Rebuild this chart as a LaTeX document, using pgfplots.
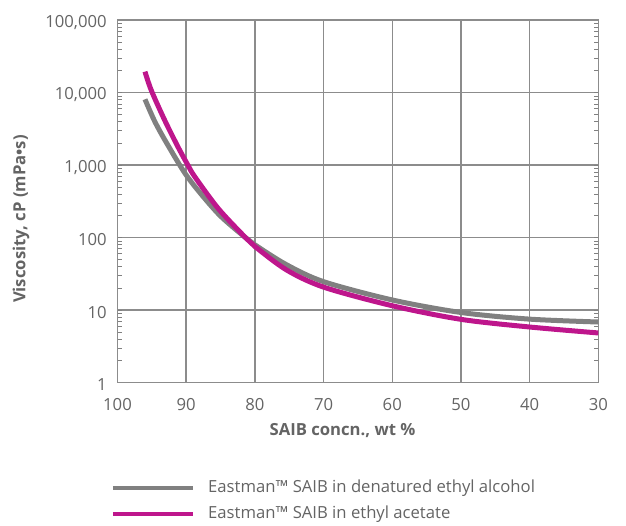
\documentclass[border=0pt]{standalone}
\usepackage{pgfplots}
\pgfplotsset{compat=1.18}
\usepackage{fontspec}
\setmainfont{Open Sans}

\definecolor{curvegray}{RGB}{128,128,128}
\definecolor{gridgray}{RGB}{140,140,140}
\definecolor{labelgray}{RGB}{100,100,100}
\definecolor{saibmagenta}{RGB}{190,22,140}

\begin{document}
\fontsize{10}{12}\selectfont
\begin{tikzpicture}
  \begin{axis}[
    name=ax,
    scale only axis,
    width=288.5pt, height=217.4pt,
    ymode=log,
    ymin=1, ymax=100000,
    xmin=30, xmax=100,
    x dir=reverse,
    xtick={30,40,50,60,70,80,90,100},
    ytick={1,10,100,1000,10000,100000},
    yticklabels={1,10,100,{1,000},{10,000},{100,000}},
    minor ytick={},
    grid=major,
    major grid style={gridgray, line width=0.9pt},
    axis line style={gridgray, line width=0.9pt},
    major tick length=0pt,
    tick label style={labelgray, font=\fontsize{10}{12}\selectfont},
    /pgf/number format/assume math mode=true,
    xticklabel style={yshift=-6pt},
    yticklabel style={xshift=-3pt, yshift=-1.5pt},
    xlabel={\textbf{SAIB concn., wt \%}},
    ylabel={\textbf{Viscosity, cP (mPa•s)}},
    label style={labelgray, font=\fontsize{10}{12}\selectfont},
    xlabel style={at={(axis description cs:0.468,-0.1317)}, anchor=center},
    ylabel style={at={(axis description cs:-0.2007,0.4507)}, anchor=center},
    legend style={at={(axis description cs:-0.025,-0.25)}, anchor=north west,
      draw=none, fill=none, font=\fontsize{10}{12}\selectfont, text=labelgray,
      row sep=2.5pt, /tikz/every odd column/.append style={column sep=6pt}},
    legend cell align=left,
    legend image code/.code={\draw[#1, line width=2.4pt] (0pt,0pt) -- (48pt,0pt);},
  ]
    \addplot[curvegray, line width=3pt, smooth] coordinates {
      (96,8050) (94.54,3920) (92.6,1830) (89.7,662) (85.33,212) (81.4,100)
      (80,79) (75.4,42) (70,24.5) (60,13.7) (50,9.2) (40,7.45) (30,6.8)
    };
    \addlegendentry{Eastman™ SAIB in denatured ethyl alcohol}
    \addplot[saibmagenta, line width=3pt, smooth] coordinates {
      (96,19400) (95.08,10700) (93.13,4140) (91.19,1770) (89.74,990)
      (88.76,690) (85.33,250) (81.4,100) (80,75) (75.4,35.6) (70,20.6)
      (60,11.4) (50,7.4) (40,5.8) (30,4.8)
    };
    \addlegendentry{Eastman™ SAIB in ethyl acetate}
  \end{axis}
  \pgfresetboundingbox
  \path ([xshift=-70.5pt,yshift=-85.6pt]ax.south west) rectangle ([xshift=16.6pt,yshift=12pt]ax.north east);
\end{tikzpicture}
\end{document}
